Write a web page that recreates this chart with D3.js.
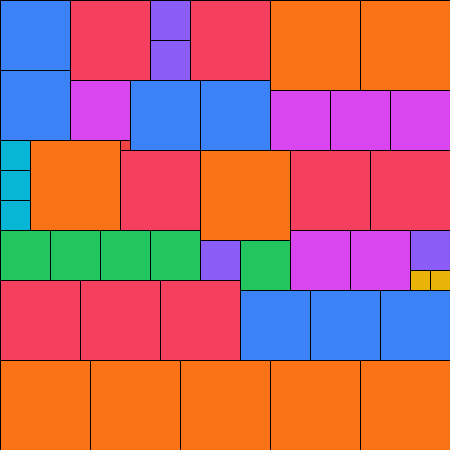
<!DOCTYPE html>
<html>
<head>
<meta charset="utf-8">
<script src="https://cdn.jsdelivr.net/npm/d3@7"></script>
<style>
html,body{margin:0;padding:0;background:#fff;}
svg{display:block;}
</style>
</head>
<body>
<div id="chart"></div>
<script>
// Partridge tiling: k squares of side k (k = 1..9) fill a 45x45 square.
const gridSize = 45;
const sizes = [9, 8, 7, 6, 5, 4, 3, 2, 1];
const sizeColors = ["#f97316", "#f43f5e", "#3b82f6", "#d946ef", "#22c55e", "#8b5cf6", "#06b6d4", "#eab308", "#ef4444"];
// top-left corners (grid units) for each size
const pos9 = [[27,0],[36,0],[3,14],[20,15],[0,36],[9,36],[18,36],[27,36],[36,36]];
const pos8 = [[7,0],[19,0],[12,15],[29,15],[37,15],[0,28],[8,28],[16,28]];
const pos7 = [[0,0],[0,7],[13,8],[20,8],[24,29],[31,29],[38,29]];
const pos6 = [[7,8],[27,9],[33,9],[39,9],[29,23],[35,23]];
const pos5 = [[0,23],[5,23],[10,23],[15,23],[24,24]];
const pos4 = [[15,0],[15,4],[20,24],[41,23]];
const pos3 = [[0,14],[0,17],[0,20]];
const pos2 = [[41,27],[43,27]];
const pos1 = [[12,14]];
const positions = [pos9, pos8, pos7, pos6, pos5, pos4, pos3, pos2, pos1];

const W = 450, H = 450;
const squares = [];
sizes.forEach((s, i) => positions[i].forEach(p => squares.push({size: s, gx: p[0], gy: p[1], color: sizeColors[i]})));

const x = d3.scaleLinear().domain([0, gridSize]).range([0, W]);
const y = d3.scaleLinear().domain([0, gridSize]).range([0, H]);

const svg = d3.select("#chart").append("svg").attr("width", W).attr("height", H);
svg.selectAll("rect").data(squares).join("rect")
  .attr("x", d => x(d.gx) + 0.5)
  .attr("y", d => y(d.gy) + 0.5)
  .attr("width", d => x(d.size) - x(0))
  .attr("height", d => y(d.size) - y(0))
  .attr("fill", d => d.color)
  .attr("stroke", "#000")
  .attr("stroke-width", 1);
</script>
</body>
</html>
